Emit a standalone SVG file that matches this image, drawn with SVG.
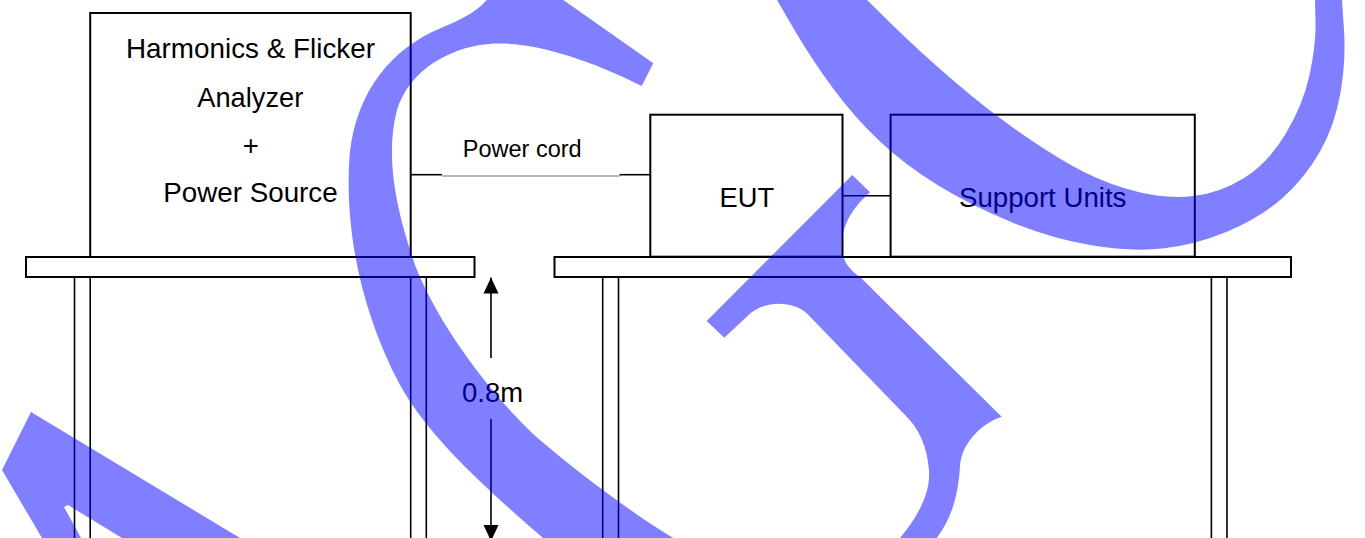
<svg xmlns="http://www.w3.org/2000/svg" width="1365" height="538" viewBox="0 0 1365 538">
  <style>
    .box { fill: #ffffff; stroke: #000000; stroke-width: 2; }
    .top { fill: #ffffff; stroke: #000000; stroke-width: 2; }
    .leg { stroke: #000000; stroke-width: 1.6; fill: none; }
    .ln { stroke: #000000; stroke-width: 1.6; fill: none; }
    .txt { font-family: "Liberation Sans", Arial, sans-serif; fill: #000000; text-anchor: middle; }
    .big { font-size: 27.5px; }
    .small { font-size: 23.5px; }
    .wm { fill: #0000ff; fill-opacity: 0.5; stroke: none; }
  </style>
  <defs>
    <marker id="arrow" markerUnits="userSpaceOnUse" markerWidth="16" markerHeight="16" viewBox="0 0 16 16" refX="16" refY="8" orient="auto">
      <path d="M0,0.5 L16,8 L0,15.5 Z" fill="#000000"/>
    </marker>
  </defs>
  <rect width="1365" height="538" fill="#ffffff"/>

  <g id="table-left">
    <line class="leg" x1="74.5" y1="277" x2="74.5" y2="538"/>
    <line class="leg" x1="90.2" y1="277" x2="90.2" y2="538"/>
    <line class="leg" x1="410.7" y1="277" x2="410.7" y2="538"/>
    <line class="leg" x1="426.3" y1="277" x2="426.3" y2="538"/>
    <rect class="top" x="26" y="257" width="448.5" height="20"/>
  </g>

  <g id="table-right">
    <line class="leg" x1="602.7" y1="277" x2="602.7" y2="538"/>
    <line class="leg" x1="618.5" y1="277" x2="618.5" y2="538"/>
    <line class="leg" x1="1211.4" y1="277" x2="1211.4" y2="538"/>
    <line class="leg" x1="1227" y1="277" x2="1227" y2="538"/>
    <rect class="top" x="554.5" y="257" width="736.5" height="20"/>
  </g>

  <g id="analyzer">
    <rect class="box" x="90.2" y="13" width="320.5" height="244"/>
    <text class="txt big" x="250.5" y="58.3" textLength="249" lengthAdjust="spacingAndGlyphs">Harmonics &amp; Flicker</text>
    <text class="txt big" x="250.3" y="106.5" textLength="106" lengthAdjust="spacingAndGlyphs">Analyzer</text>
    <text class="txt big" x="250.8" y="154.5">+</text>
    <text class="txt big" x="250.5" y="202" textLength="174.4" lengthAdjust="spacingAndGlyphs">Power Source</text>
  </g>

  <g id="eut">
    <rect class="box" x="650.3" y="114.7" width="192.2" height="142"/>
    <text class="txt big" x="746.8" y="206.7" textLength="54.5" lengthAdjust="spacingAndGlyphs">EUT</text>
  </g>

  <g id="support-units">
    <rect class="box" x="890.6" y="114.7" width="304.2" height="142"/>
    <text class="txt big" x="1042.7" y="206.7" textLength="167.4" lengthAdjust="spacingAndGlyphs">Support Units</text>
  </g>

  <g id="connectors">
    <line class="ln" x1="410.7" y1="174.7" x2="442" y2="174.7"/>
    <line x1="442" y1="176" x2="619.5" y2="176" stroke="#707070" stroke-width="1.2"/>
    <line class="ln" x1="619.5" y1="174.7" x2="650.3" y2="174.7"/>
    <text class="txt small" x="522.2" y="156.7" textLength="119" lengthAdjust="spacingAndGlyphs">Power cord</text>
    <line class="ln" x1="842.5" y1="195.7" x2="890.6" y2="195.7"/>
    <line class="ln" x1="491" y1="358" x2="491" y2="277.5" marker-end="url(#arrow)"/>
    <line class="ln" x1="491" y1="419" x2="491" y2="541" marker-end="url(#arrow)"/>
    <text class="txt big" x="492.5" y="401.7" textLength="61" lengthAdjust="spacingAndGlyphs">0.8m</text>
  </g>

  <g id="watermark">
    <path class="wm" d="M31,412 L240,538 L122,538 L68,505 L64,507 L81,538 L42,538 L2,470 Z"/>
    <path class="wm" d="M486.7,0 C475,14 455,22 432,32 C385,55 352,100 349,165 C346,230 360,310 400,385 C425,430 470,475 543,538 L673.3,538 C630,512 575,470 540,440 C500,405 440,330 415,265 C398,215 384,160 397,110 C408,75 440,52 480,45 C520,38 580,55 641.7,86 L653.3,63.3 L563.3,0 Z"/>
    <path class="wm" d="M777,0 L794.5,30 Q812,60 833.5,89 Q855,118 880,141.5 Q905,165 937.5,185 Q970,205 1010,221.5 Q1050,238 1090,245 Q1130,252 1162.5,248.5 Q1195,245 1227.5,231.5 Q1260,218 1282.5,198 Q1305,178 1320,151.5 Q1335,125 1340.5,92.5 Q1346,60 1344,30 L1342,0 L1315,0 L1315.5,22.5 Q1316,45 1309.5,75 Q1303,105 1285.5,134 Q1268,163 1244,178 Q1220,193 1193.5,196 Q1167,199 1138.5,192 Q1110,185 1085,172.5 Q1060,160 1025,136 Q990,112 955,82 Q920,52 893.5,26 L867,0 Z"/>
    <path class="wm" d="M852.3,175 L870,192.3 C852,208 840,228 842,250 C843,262 850,270 860,277 L1001.7,416.7 C985,422 962,440 960,466 C958,500 950,520 936.7,538 L900,538 C915,520 931,495 929,470 C927,445 918,428 906.7,416.7 L806.7,313.3 C795,302 765,298 746.7,316.7 L724.3,337.7 L706.7,321 Z"/>
  </g>
</svg>
